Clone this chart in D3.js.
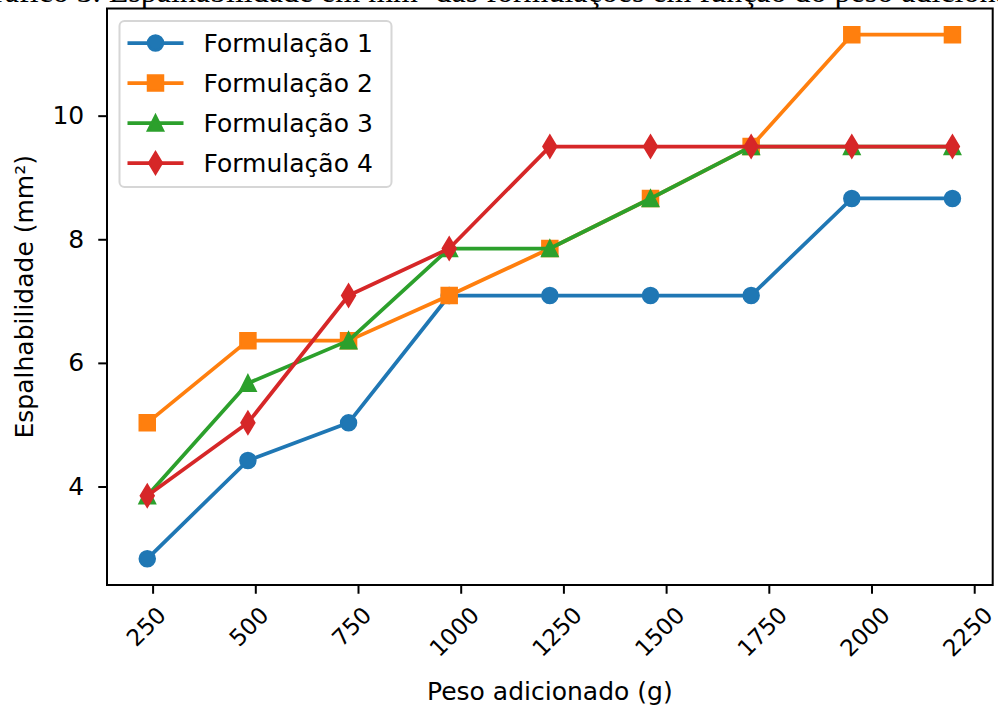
<!DOCTYPE html>
<html>
<head>
<meta charset="utf-8">
<script src="https://cdn.jsdelivr.net/npm/d3@7"></script>
<style>
  body { margin: 0; background: #fff; }
  svg { display: block; }
</style>
</head>
<body>
<svg width="998" height="708"></svg>
<script>
// peso adicionado (g) and espalhabilidade (mm²) per formulação
const weights = [237, 482, 727, 972, 1217, 1462, 1707, 1952, 2197]
const form1 = [2.83, 4.42, 5.03, 7.09, 7.09, 7.09, 7.09, 8.66, 8.66]
const form2 = [5.03, 6.36, 6.36, 7.09, 7.85, 8.66, 9.50, 11.31, 11.31]
const form3 = [3.85, 5.67, 6.36, 7.85, 7.85, 8.66, 9.50, 9.50, 9.50]
const form4 = [3.85, 5.03, 7.09, 7.85, 9.50, 9.50, 9.50, 9.50, 9.50]
const seriesNames = ['Formulação 1', 'Formulação 2', 'Formulação 3', 'Formulação 4']
const colours = ['#1f77b4', '#ff7f0e', '#2ca02c', '#d62728']
const markerTypes = ['circle', 'square', 'triangle', 'thinDiamond']
const xTicks = [250, 500, 750, 1000, 1250, 1500, 1750, 2000, 2250]
const yTicks = [4, 6, 8, 10]

const caption = 'Gráfico 3. Espalhabilidade em mm² das formulações em função do peso adicionado'

const margin = { top: 8.5, right: 5.3, bottom: 123, left: 107 }
const width = 998
const height = 708
const pt = 2.5 // px per point
const font = 'DejaVu Sans, sans-serif'

const series = [form1, form2, form3, form4].map((values, i) => ({
  name: seriesNames[i],
  colour: colours[i],
  marker: markerTypes[i],
  points: values.map((v, j) => ({ x: weights[j], y: v }))
}))

const pad = ([a, b]) => [a - (b - a) * 0.05, b + (b - a) * 0.05]
const allY = [].concat(form1, form2, form3, form4)

const x = d3.scaleLinear()
  .domain(pad(d3.extent(weights)))
  .range([margin.left, width - margin.right])

const y = d3.scaleLinear()
  .domain(pad(d3.extent(allY)))
  .range([height - margin.bottom, margin.top])

const svg = d3.select('svg')

// caption line of the page above, cut by the top edge
svg.append('text')
  .text(caption)
  .attr('x', -29)
  .attr('y', 1.5)
  .attr('font-family', 'Liberation Serif, Times New Roman, serif')
  .attr('font-size', 32)
  .attr('fill', '#000')

const markerPath = (type, s) => {
  const h = s / 2
  if (type === 'circle') {
    return `M${h},0A${h},${h} 0 1,1 ${-h},0A${h},${h} 0 1,1 ${h},0Z`
  }
  if (type === 'square') {
    return `M${-h},${-h}H${h}V${h}H${-h}Z`
  }
  if (type === 'triangle') {
    return `M0,${-h}L${h},${h}L${-h},${h}Z`
  }
  const d = s * Math.SQRT2 / 2
  return `M0,${-d}L${d * 0.6},0L0,${d}L${-d * 0.6},0Z`
}

// lines + markers, drawn series by series like matplotlib
const line = d3.line().x(d => x(d.x)).y(d => y(d.y))

series.forEach(s => {
  const g = svg.append('g')
  g.append('path')
    .datum(s.points)
    .attr('d', line)
    .attr('fill', 'none')
    .attr('stroke', s.colour)
    .attr('stroke-width', 1.5 * pt)
    .attr('stroke-linejoin', 'round')
  g.selectAll('path.m')
    .data(s.points)
    .enter().append('path')
    .attr('class', 'm')
    .attr('d', markerPath(s.marker, 6 * pt))
    .attr('transform', d => `translate(${x(d.x)},${y(d.y)})`)
    .attr('fill', s.colour)
    .attr('stroke', s.colour)
    .attr('stroke-width', 1 * pt)
})

// frame
const [x0, x1] = x.range()
const [y0, y1] = y.range()
svg.append('rect')
  .attr('x', x0)
  .attr('y', y1)
  .attr('width', x1 - x0)
  .attr('height', y0 - y1)
  .attr('fill', 'none')
  .attr('stroke', '#000')
  .attr('stroke-width', 0.8 * pt)

// x axis
const xAxis = svg.append('g')
  .attr('transform', `translate(0,${y0})`)
  .call(d3.axisBottom(x).tickValues(xTicks).tickSize(3.5 * pt).tickFormat(d3.format('d')))
xAxis.select('.domain').remove()
xAxis.selectAll('.tick line').attr('stroke', '#000').attr('stroke-width', 0.8 * pt)
xAxis.selectAll('.tick text').remove()

const tickFont = 23
const tickTextTop = y0 + 7 * pt
xTicks.forEach(t => {
  const label = svg.append('text')
    .text(t)
    .attr('font-family', font)
    .attr('font-size', tickFont)
    .attr('fill', '#000')
    .attr('text-anchor', 'middle')
    .attr('dy', '0.32em')
  const w = label.node().getComputedTextLength()
  const h = tickFont * 1.1
  const half = (w + h) / (2 * Math.SQRT2)
  label.attr('transform', `translate(${x(t) - 6},${tickTextTop + half}) rotate(-45)`)
})

// y axis
const yAxis = svg.append('g')
  .attr('transform', `translate(${x0},0)`)
  .call(d3.axisLeft(y).tickValues(yTicks).tickSize(3.5 * pt).tickPadding(14))
yAxis.select('.domain').remove()
yAxis.selectAll('.tick line').attr('stroke', '#000').attr('stroke-width', 0.8 * pt)
yAxis.selectAll('.tick text')
  .attr('font-family', font)
  .attr('font-size', 10 * pt)
  .attr('fill', '#000')

// axis titles
svg.append('text')
  .text('Peso adicionado (g)')
  .attr('x', (x0 + x1) / 2)
  .attr('y', 700)
  .attr('text-anchor', 'middle')
  .attr('font-family', font)
  .attr('font-size', 10 * pt)
  .attr('fill', '#000')

svg.append('text')
  .text('Espalhabilidade (mm²)')
  .attr('transform', `translate(33,${(y0 + y1) / 2}) rotate(-90)`)
  .attr('text-anchor', 'middle')
  .attr('font-family', font)
  .attr('font-size', 10 * pt)
  .attr('fill', '#000')

// legend
const legend = svg.append('g')
  .attr('transform', `translate(${x0 + 5 * pt},${y1 + 5 * pt})`)

legend.append('rect')
  .attr('width', 272)
  .attr('height', 166)
  .attr('rx', 5)
  .attr('fill', '#fff')
  .attr('fill-opacity', 0.8)
  .attr('stroke', '#d6d6d6')
  .attr('stroke-width', 2)

const rows = legend.selectAll('g.row')
  .data(series)
  .enter().append('g')
  .attr('class', 'row')
  .attr('transform', (d, i) => `translate(0,${22 + i * 40})`)

rows.append('line')
  .attr('x1', 8)
  .attr('x2', 64)
  .attr('stroke', d => d.colour)
  .attr('stroke-width', 1.5 * pt)

rows.append('path')
  .attr('d', d => markerPath(d.marker, 6 * pt))
  .attr('transform', 'translate(36,0)')
  .attr('fill', d => d.colour)
  .attr('stroke', d => d.colour)
  .attr('stroke-width', 1 * pt)

rows.append('text')
  .text(d => d.name)
  .attr('x', 84)
  .attr('dy', '0.36em')
  .attr('font-family', font)
  .attr('font-size', 10 * pt)
  .attr('fill', '#000')
</script>
</body>
</html>
